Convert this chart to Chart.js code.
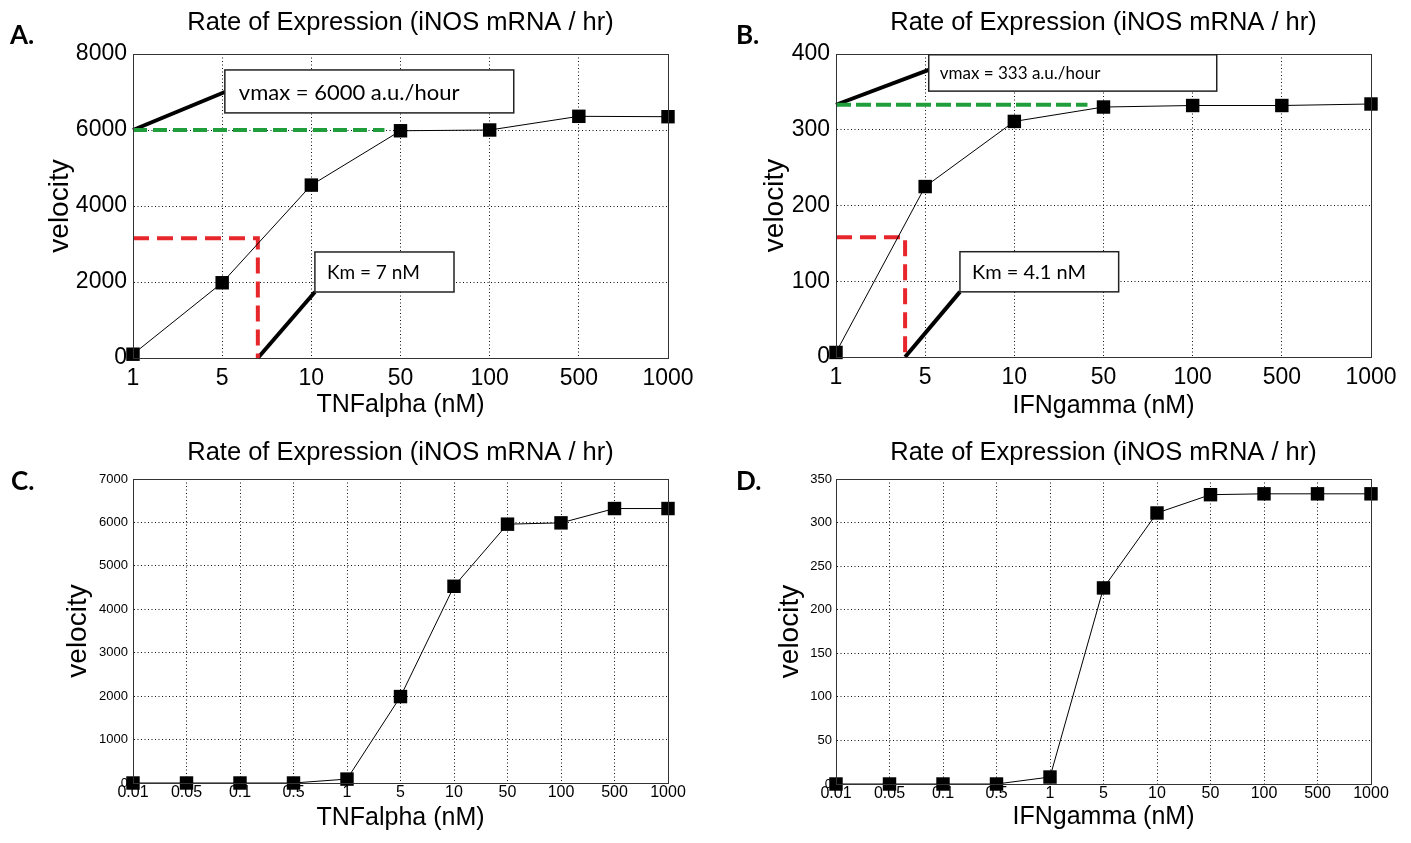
<!DOCTYPE html>
<html>
<head>
<meta charset="utf-8">
<title>iNOS expression rate</title>
<script src="https://cdn.jsdelivr.net/npm/chart.js@4.4.1/dist/chart.umd.min.js"></script>
<style>
  html, body { margin: 0; padding: 0; background: #fff; }
  #figure { position: relative; width: 1411px; height: 843px; overflow: hidden; }
  #figure canvas { position: absolute; }
</style>
</head>
<body>
<div id="figure">
  <canvas id="panelA" width="705" height="425" style="left:0;top:0"></canvas>
  <canvas id="panelB" width="706" height="425" style="left:705px;top:0"></canvas>
  <canvas id="panelC" width="705" height="418" style="left:0;top:425px"></canvas>
  <canvas id="panelD" width="706" height="418" style="left:705px;top:425px"></canvas>
</div>
<script>
// doses (nM), shown as evenly spaced categories
const dosesShort = ['1', '5', '10', '50', '100', '500', '1000'];
const dosesLong = ['0.01', '0.05', '0.1', '0.5', '1', '5', '10', '50', '100', '500', '1000'];

// measured velocities
const tnfRateA = [100, 1980, 4550, 5980, 6000, 6360, 6350];
const ifnRateB = [6, 225, 311, 330, 332, 332, 334];
const tnfRateC = [0, 0, 0, 0, 90, 1990, 4530, 5960, 5990, 6320, 6320];
const ifnRateD = [0, 0, 0, 0, 8, 225, 311, 332, 333, 333, 333];

// y tick values
const yTicksA = [0, 2000, 4000, 6000, 8000];
const yTicksB = [0, 100, 200, 300, 400];
const yTicksC = [0, 1000, 2000, 3000, 4000, 5000, 6000, 7000];
const yTicksD = [0, 50, 100, 150, 200, 250, 300, 350];

// Michaelis-Menten readouts
const tnfVmax = 6000, tnfKm = 7, tnfHalfRate = 3150;
const ifnVmax = 333, ifnKm = 4.1, ifnHalfRate = 158;

const TITLE = 'Rate of Expression (iNOS mRNA / hr)';
const SANS = '"Liberation Sans", Arial, Helvetica, sans-serif';
const GREEN = '#1f9e3b';
const RED = '#e6262a';

// position of a dose on the category axis (linear between neighbours)
function doseIndex(labels, dose) {
  const v = labels.map(Number);
  for (let i = 0; i < v.length - 1; i++) {
    if (dose >= v[i] && dose <= v[i + 1]) return i + (dose - v[i]) / (v[i + 1] - v[i]);
  }
  return 0;
}

// frame around the plot, callout boxes, panel title and letter
const panelDecor = {
  id: 'panelDecor',
  afterDatasetsDraw(chart, args, opts) {
    const { ctx, chartArea: a, scales: { x, y } } = chart;
    ctx.save();
    ctx.strokeStyle = '#333';
    ctx.lineWidth = 1;
    ctx.strokeRect(Math.round(a.left) + 0.5, Math.round(a.top) + 0.5,
      Math.round(a.right - a.left), Math.round(a.bottom - a.top));

    (opts.boxes || []).forEach((b) => {
      const l = x.getPixelForValue(b.x0), r = x.getPixelForValue(b.x1);
      const t = y.getPixelForValue(b.y1), btm = y.getPixelForValue(b.y0);
      ctx.fillStyle = '#fff';
      ctx.fillRect(l, t, r - l, btm - t);
      ctx.strokeStyle = '#222';
      ctx.lineWidth = 1.5;
      ctx.strokeRect(l, t, r - l, btm - t);
      ctx.fillStyle = '#000';
      ctx.font = b.font;
      ctx.textAlign = 'left';
      ctx.textBaseline = 'middle';
      ctx.fillText(b.text, l + b.inset, (t + btm) / 2 + 1);
    });
    ctx.restore();
  },
  afterDraw(chart, args, opts) {
    const { ctx, chartArea: a } = chart;
    ctx.save();
    ctx.fillStyle = '#000';
    ctx.textBaseline = 'middle';
    ctx.textAlign = 'center';
    ctx.font = '25.5px ' + SANS;
    ctx.fillText(opts.title, (a.left + a.right) / 2, opts.titleY);
    ctx.textAlign = 'left';
    ctx.font = 'bold 26px Lato, "Open Sans", sans-serif';
    ctx.fillText(opts.letter, opts.letterX, opts.letterY);
    ctx.restore();
  }
};

function panelChart(id, spec) {
  const canvas = document.getElementById(id);
  const datasets = [{
    label: 'velocity',
    data: spec.rates.map((v, i) => ({ x: i, y: v })),
    borderColor: '#000',
    borderWidth: 1,
    backgroundColor: '#000',
    pointStyle: 'rect',
    pointRadius: 9.5,
    pointBorderWidth: 0,
    pointBackgroundColor: '#000',
    clip: false,
    order: 0
  }];
  (spec.guides || []).forEach((g) => {
    datasets.push({
      data: g.points.map(([px, py]) => ({ x: px, y: py })),
      borderColor: g.color,
      borderWidth: 4,
      borderDash: g.dash || [],
      borderCapStyle: 'butt',
      pointRadius: 0,
      clip: false,
      order: 1
    });
  });

  // dotted grid, solid axis lines
  const gridStyle = { color: '#111', lineWidth: 1, drawTicks: false };
  const borderStyle = { display: true, color: '#333', width: 1, dash: [1, 2.5] };

  return new Chart(canvas, {
    type: 'line',
    data: { datasets },
    plugins: [panelDecor],
    options: {
      responsive: false,
      animation: false,
      devicePixelRatio: 1,
      events: [],
      layout: { padding: { left: 0, top: spec.plotTop, right: spec.padRight, bottom: 0 } },
      plugins: {
        legend: { display: false },
        tooltip: { enabled: false },
        panelDecor: {
          boxes: spec.boxes || [],
          title: TITLE,
          titleY: spec.titleY,
          letter: spec.letter,
          letterX: spec.letterX,
          letterY: spec.letterY
        }
      },
      scales: {
        x: {
          type: 'linear',
          min: 0,
          max: spec.doses.length - 1,
          grid: gridStyle,
          border: borderStyle,
          afterBuildTicks: (s) => { s.ticks = spec.doses.map((_, i) => ({ value: i })); },
          afterFit: (s) => {
            s.height = spec.xHeight;
            s.paddingLeft = s.paddingRight = s.paddingTop = s.paddingBottom = 0;
          },
          ticks: {
            autoSkip: false,
            maxRotation: 0,
            padding: spec.xTickPad,
            color: '#000',
            font: { family: SANS, size: spec.xTickSize },
            callback: (v) => spec.doses[v] ?? ''
          },
          title: {
            display: true,
            text: spec.xTitle,
            color: '#000',
            font: { family: SANS, size: 25 },
            padding: { top: 0, bottom: spec.xTitlePad }
          }
        },
        y: {
          type: 'linear',
          min: spec.yTicks[0],
          max: spec.yTicks[spec.yTicks.length - 1],
          grid: gridStyle,
          border: borderStyle,
          afterBuildTicks: (s) => { s.ticks = spec.yTicks.map((v) => ({ value: v })); },
          afterFit: (s) => {
            s.width = spec.plotLeft;
            s.paddingLeft = s.paddingRight = s.paddingTop = s.paddingBottom = 0;
          },
          ticks: {
            padding: spec.yTickPad,
            color: '#000',
            font: { family: SANS, size: spec.yTickSize },
            callback: (v) => String(v)
          },
          title: {
            display: true,
            text: 'velocity',
            color: '#000',
            font: { family: SANS, size: 28 },
            padding: { top: spec.yTitlePad, bottom: 0 }
          }
        }
      }
    }
  });
}

const kmIdxA = doseIndex(dosesShort, tnfKm);
const kmIdxB = doseIndex(dosesShort, ifnKm);
const noteFont = (px) => px + 'px Lato, "Open Sans", sans-serif';

panelChart('panelA', {
  letter: 'A.', letterX: 10, letterY: 36, titleY: 23,
  doses: dosesShort, rates: tnfRateA, yTicks: yTicksA,
  xTitle: 'TNFalpha (nM)',
  plotLeft: 133, plotTop: 54, padRight: 37, xHeight: 67,
  xTickSize: 23, yTickSize: 23, xTickPad: 7, yTickPad: 6,
  xTitlePad: 5, yTitlePad: 43,
  guides: [
    { color: GREEN, dash: [14, 6], points: [[0, tnfVmax], [2.82, tnfVmax]] },
    { color: RED, dash: [16, 8], points: [[0, tnfHalfRate], [kmIdxA, tnfHalfRate], [kmIdxA, 0]] },
    { color: '#000', points: [[0, tnfVmax], [1.03, 7000]] },
    { color: '#000', points: [[kmIdxA, 0], [2.04, 1737]] }
  ],
  boxes: [
    { x0: 1.03, x1: 4.27, y0: 6450, y1: 7580, text: 'vmax = 6000 a.u./hour', font: noteFont(22), inset: 14 },
    { x0: 2.04, x1: 3.6, y0: 1737, y1: 2790, text: 'Km = 7 nM', font: noteFont(19), inset: 12 }
  ]
});

panelChart('panelB', {
  letter: 'B.', letterX: 31, letterY: 36, titleY: 23,
  doses: dosesShort, rates: ifnRateB, yTicks: yTicksB,
  xTitle: 'IFNgamma (nM)',
  plotLeft: 131, plotTop: 54, padRight: 40, xHeight: 68,
  xTickSize: 23, yTickSize: 23, xTickPad: 7, yTickPad: 6,
  xTitlePad: 4, yTitlePad: 53,
  guides: [
    { color: GREEN, dash: [15, 5], points: [[0, ifnVmax], [2.82, ifnVmax]] },
    { color: RED, dash: [16, 8], points: [[0, ifnHalfRate], [kmIdxB, ifnHalfRate], [kmIdxB, 0]] },
    { color: '#000', points: [[0, ifnVmax], [1.04, 379]] },
    { color: '#000', points: [[kmIdxB, 0], [1.39, 86]] }
  ],
  boxes: [
    { x0: 1.04, x1: 4.27, y0: 351, y1: 399, text: 'vmax = 333 a.u./hour', font: noteFont(17), inset: 11 },
    { x0: 1.39, x1: 3.17, y0: 86, y1: 139, text: 'Km = 4.1 nM', font: noteFont(20), inset: 12 }
  ]
});

panelChart('panelC', {
  letter: 'C.', letterX: 11, letterY: 57, titleY: 28,
  doses: dosesLong, rates: tnfRateC, yTicks: yTicksC,
  xTitle: 'TNFalpha (nM)',
  plotLeft: 133, plotTop: 54, padRight: 37, xHeight: 60,
  xTickSize: 16, yTickSize: 13, xTickPad: 0, yTickPad: 5,
  xTitlePad: 10, yTitlePad: 61
});

panelChart('panelD', {
  letter: 'D.', letterX: 31, letterY: 57, titleY: 28,
  doses: dosesLong, rates: ifnRateD, yTicks: yTicksD,
  xTitle: 'IFNgamma (nM)',
  plotLeft: 131, plotTop: 54, padRight: 40, xHeight: 59,
  xTickSize: 16, yTickSize: 13, xTickPad: 0, yTickPad: 4,
  xTitlePad: 11, yTitlePad: 68
});
</script>
</body>
</html>
